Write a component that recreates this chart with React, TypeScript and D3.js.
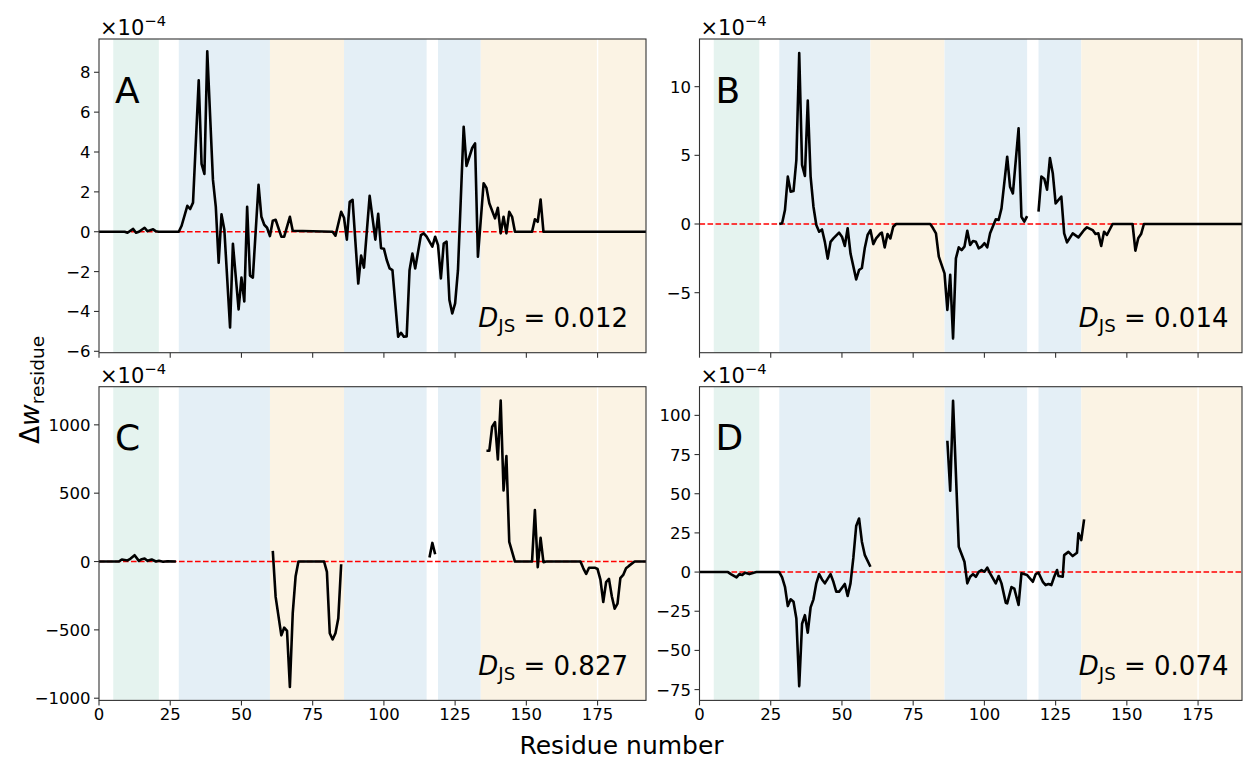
import React from 'react';
import * as d3 from 'd3';

const W = 1243;
const H = 760;

// Δw per residue (×10^-4); null marks gaps in the line
const seriesA: [number, number | null][] = [
  [0, 0], [9, 0], [10, -0.05], [12, 0.14], [13, -0.05], [14, 0], [16, 0.2], [17, 0.03], [19, 0.12], [20, 0.02], [21, 0],
  [28, 0], [29, 0.3], [31, 1.3], [32, 1.14], [33, 1.46], [35, 7.6], [36, 3.4], [37, 2.9], [38, 9.05], [40, 2.6], [41, 1.25],
  [42, -1.55], [43, 0.87], [44, 0.1], [46, -4.8], [47, -0.6], [49, -3.9], [50, -2.3], [51, -3.5], [52, 1.25], [53, -2.2],
  [54, -2.3], [56, 2.35], [57, 0.75], [58, 0.35], [59, 0.2], [60, -0.22], [61, 0.55], [62, 0.6], [64, -0.25], [65, -0.25],
  [67, 0.75], [68, 0.05], [82, 0], [83, -0.2], [85, 1.0], [86, 0.7], [87, -0.4], [88, 1.5], [89, 1.6], [91, -2.6], [92, -1.2],
  [93, -1.8], [95, 1.8], [97, -0.4], [98, 0.9], [99, -0.83], [100, -0.85], [101, -1.42], [102, -1.84], [103, -1.93],
  [105, -5.27], [106, -5.07], [107, -5.27], [108, -5.25], [109, -1.93], [110, -1.1], [111, -1.84], [113, -0.17], [114, -0.08],
  [115, -0.25], [117, -0.75], [118, -0.25], [119, -0.67], [120, -2.34], [121, -0.6], [122, -0.5], [123, -3.43], [124, -4.1],
  [125, -3.6], [126, -1.93], [128, 5.27], [129, 3.3], [131, 4.2], [132, 4.43], [133, -1.25], [135, 2.43], [136, 2.2],
  [137, 1.43], [139, 0.67], [140, 1.2], [141, -0.08], [142, 0.75], [143, -0.08], [144, 1.0], [145, 0.75], [146, 0],
  [152, 0], [153, 0.62], [154, 0.5], [155, 1.62], [156, 0], [192, 0],
];

const seriesB: [number, number | null][] = [
  [28, 0], [29, 0.05], [30, 1.02], [31, 3.45], [32, 2.35], [33, 2.4], [34, 4.66], [35, 12.45], [36, 4.3], [37, 3.5],
  [38, 8.98], [39, 3.45], [40, 1.26], [41, -0.07], [42, -0.56], [43, -0.4], [44, -1.3], [45, -2.52], [46, -1.3], [47, -1.05],
  [49, -0.63], [50, -0.92], [51, -1.6], [52, -0.31], [53, -2.14], [55, -4.03], [56, -3.35], [57, -3.2], [58, -1.77],
  [59, -0.8], [60, -0.44], [61, -1.46], [62, -1.05], [63.5, -0.68], [64, -0.63], [65, -1.7], [66, -0.73], [67, -1.05],
  [68, -0.2], [69, 0], [81, 0], [82, -0.31], [83, -0.68], [84, -2.38], [86, -3.6], [87, -6.26], [88, -3.7], [89, -8.33],
  [90, -2.5], [91, -1.7], [92, -1.9], [93, -1.65], [94, -0.49], [95, -1.53], [96, -1.24], [97, -1.29], [98, -1.77],
  [99, -1.65], [100, -1.4], [101, -1.7], [102, -0.68], [104, 0.34], [105, 0.29], [106, 1.14], [108, 4.9], [109, 2.72],
  [110, 2.23], [112, 6.97], [113, 0.53], [114, 0.17], [115, 0.58], [117, null],
  [119, 0.9], [120, 3.45], [121, 3.3], [122, 2.5], [123, 4.8], [124, 3.7], [125, 1.5], [127, 2.0], [128, -0.68],
  [129, -1.34], [131, -0.68], [133, -0.97], [135, -0.44], [136, -0.24], [138, -0.44], [139, -0.73], [140, -0.68],
  [141, -1.6], [142, -0.56], [143, -0.8], [145, 0], [152, 0], [153, -1.94], [154, -1.04], [155, -0.73], [156, 0], [192, 0],
];

const seriesC: [number, number | null][] = [
  [0, 0], [7, 0], [8, 15], [10, 8], [11, 20], [12.5, 46], [14, 5], [15, 17], [16, 22], [17, 5], [18.5, 15], [20, 0],
  [21, 5], [22.5, -2], [24, 2], [27, 0], [28, null],
  [61, 78], [62, -259], [64, -540], [65, -484], [66, -508], [67, -918], [68, -380], [69, -110], [70, 0], [79, 0],
  [80, -76], [81, -525], [82, -570], [83, -525], [84, -415], [85, -20], [86, null],
  [116, 29], [117, 136], [118, 53], [119, null],
  [136, 810], [137, 810], [138, 986], [139, 1020], [140, 747], [141, 1177], [142, 520], [143, 771], [144, 144],
  [146, 0], [152, 0], [153, 376], [154, -41], [155, 173], [156, -5], [157, 0], [169, 0], [170, -50], [171, -91],
  [172, -45], [174, -45], [175, -55], [176, -132], [177, -296], [178, -150], [179, -127], [180, -254], [181, -345],
  [182, -308], [183, -122], [184, -98], [185, -49], [186, -32], [188, 0], [192, 0],
];

const seriesD: [number, number | null][] = [
  [0, 0], [10, 0], [11, -1.3], [13, -3.4], [14, -1.3], [15, -1.8], [16, -0.4], [17.5, -1.3], [19, -0.4], [20, 0],
  [28, 0], [29, -3.4], [30, -9.4], [31, -21.7], [32, -17.4], [33, -19], [34, -29.6], [35, -72.8], [36, -33], [37, -27.5],
  [38, -38.7], [39, -22.5], [40, -17.4], [41, -7.2], [42, -1.3], [43, -4.7], [44, -7.2], [46, -1.3], [47, -6.2],
  [48, -12.5], [49, -12.5], [51, -7.6], [52, -15.2], [53, -7.2], [54, 9], [55, 29.4], [56, 34.2], [57, 19.4], [58, 11],
  [60, 3.4], [61, null],
  [87, 83.8], [88, 51.9], [89, 109.3], [91, 16.2], [93, 6.6], [94, -7.2], [95, -3], [96, -1.3], [97, -3], [98, 0.2],
  [99, 1.3], [100, 0.2], [101, 2.8], [102, -0.8], [104, -7.2], [105, -2.5], [106, -7.2], [107.5, -19.6], [108, -20],
  [109.5, -9.6], [110.5, -10.6], [112, -21], [113, -0.8], [115, -1.9], [117, -6.2], [118, -1.3], [119, -0.4],
  [120.5, -6.2], [121.5, -8.3], [122.5, -7.6], [123.5, -8.3], [124.5, -3], [125.5, 1.3], [126, -2.5], [127.5, -3],
  [128, 10.8], [129.5, 12.9], [131, 10.2], [132.5, 12.3], [133, 24.7], [134, 20.4], [135, 33.6],
];

const djsValues = ['0.012', '0.014', '0.827', '0.074'];
const panelLetters = ['A', 'B', 'C', 'D'];
const xTicks = [0, 25, 50, 75, 100, 125, 150, 175];
const yTicksA = [-6, -4, -2, 0, 2, 4, 6, 8];
const yTicksB = [-5, 0, 5, 10];
const yTicksC = [-1000, -500, 0, 500, 1000];
const yTicksD = [-75, -50, -25, 0, 25, 50, 75, 100];

// shaded secondary-structure regions (residue ranges)
const regionStart = [5, 28, 60, 86, 119, 134, 175.25];
const regionEnd = [21, 60, 86, 115, 134, 174.75, 200];
const regionKind = ['g', 'b', 'o', 'b', 'b', 'o', 'o'];

const regionColor: Record<string, string> = { g: '#e5f3ef', b: '#e4eff6', o: '#fbf3e4' };

const FONT = 'DejaVu Sans, sans-serif';

type PanelCfg = {
  idx: number;
  data: [number, number | null][];
  yDomain: [number, number];
  yTicks: number[];
  left: number; right: number; top: number; bottom: number;
  xMax: number;
  showXLabels: boolean;
};

const fmt = (v: number) => String(v).replace('-', '\u2212');

function Panel({ cfg }: { cfg: PanelCfg }) {
  const { idx, data, yDomain, yTicks, left, right, top, bottom, xMax, showXLabels } = cfg;
  const x = d3.scaleLinear().domain([0, xMax]).range([left, right]);
  const y = d3.scaleLinear().domain(yDomain).range([bottom, top]);
  const line = d3.line<[number, number | null]>()
    .defined(d => d[1] !== null)
    .x(d => x(d[0]))
    .y(d => y(d[1] as number));
  const clipId = `clip${idx}`;
  const tickLen = 5;
  return (
    <g>
      <defs>
        <clipPath id={clipId}>
          <rect x={left} y={top} width={right - left} height={bottom - top} />
        </clipPath>
      </defs>
      <g clipPath={`url(#${clipId})`}>
        {regionStart.map((s, i) => (
          <rect key={i} x={x(s)} y={top} width={x(regionEnd[i]) - x(s)} height={bottom - top}
            fill={regionColor[regionKind[i]]} />
        ))}
        <line x1={left} x2={right} y1={y(0)} y2={y(0)} stroke="#f00" strokeWidth={1.6} strokeDasharray="5.6,2.4" />
        <path d={line(data) || ''} fill="none" stroke="#000" strokeWidth={2.6} strokeLinejoin="round" />
      </g>
      <rect x={left} y={top} width={right - left} height={bottom - top} fill="none" stroke="#333" strokeWidth={1.1} />
      {xTicks.map(t => (
        <g key={t}>
          <line x1={x(t)} x2={x(t)} y1={bottom} y2={bottom + tickLen} stroke="#333" strokeWidth={1.1} />
          {showXLabels && (
            <text x={x(t)} y={bottom + 20} textAnchor="middle" fontFamily={FONT} fontSize={16.5} fill="#000">{t}</text>
          )}
        </g>
      ))}
      {yTicks.map(t => (
        <g key={t}>
          <line x1={left - tickLen} x2={left} y1={y(t)} y2={y(t)} stroke="#333" strokeWidth={1.1} />
          <text x={left - 8.5} y={y(t) + 6} textAnchor="end" fontFamily={FONT} fontSize={16.5} fill="#000">{fmt(t)}</text>
        </g>
      ))}
      <text x={left + 1} y={top - 4} fontFamily={FONT} fontSize={21} fill="#000">
        <tspan>×10</tspan>
        <tspan fontSize={14.7} dy={-9}>−4</tspan>
      </text>
      <text x={left + 16} y={top + 63.5} fontFamily={FONT} fontSize={36} fill="#000">{panelLetters[idx]}</text>
      <text x={left + 529} y={bottom - 25.5} textAnchor="end" fontFamily={FONT} fontSize={26} fill="#000">
        <tspan fontStyle="italic">D</tspan>
        <tspan fontSize={18.2} dy={5}>JS</tspan>
        <tspan dy={-5}> = {djsValues[idx]}</tspan>
      </text>
    </g>
  );
}

export default function App() {
  const L1 = 99, R1 = 646, L2 = 699.5, R2 = 1242;
  const T1 = 39, B1 = 352.7, T2 = 386.7, B2 = 700.4;
  const xMaxLeft = 192;
  const xMaxRight = 192 * (R2 - L2) / (R1 - L1);
  const panels: PanelCfg[] = [
    { idx: 0, data: seriesA, yDomain: [-6.07, 9.67], yTicks: yTicksA, left: L1, right: R1, top: T1, bottom: B1, xMax: xMaxLeft, showXLabels: false },
    { idx: 1, data: seriesB, yDomain: [-9.37, 13.47], yTicks: yTicksB, left: L2, right: R2, top: T1, bottom: B1, xMax: xMaxRight, showXLabels: false },
    { idx: 2, data: seriesC, yDomain: [-1016, 1279], yTicks: yTicksC, left: L1, right: R1, top: T2, bottom: B2, xMax: xMaxLeft, showXLabels: true },
    { idx: 3, data: seriesD, yDomain: [-81.9, 118.3], yTicks: yTicksD, left: L2, right: R2, top: T2, bottom: B2, xMax: xMaxRight, showXLabels: true },
  ];
  return (
    <svg width={W} height={H} viewBox={`0 0 ${W} ${H}`}
      style={{ position: 'absolute', left: 0, top: 0, background: '#fff' }}>
      <rect x={0} y={0} width={W} height={H} fill="#fff" />
      {panels.map(p => <Panel key={p.idx} cfg={p} />)}
      <text transform="translate(39,390) rotate(-90)" textAnchor="middle" fontFamily={FONT} fontSize={26.5} fill="#000">
        <tspan>Δ</tspan>
        <tspan fontStyle="italic">w</tspan>
        <tspan fontSize={18.5} dy={5}>residue</tspan>
      </text>
      <text x={621.5} y={754} textAnchor="middle" fontFamily={FONT} fontSize={25} fill="#000">Residue number</text>
    </svg>
  );
}
